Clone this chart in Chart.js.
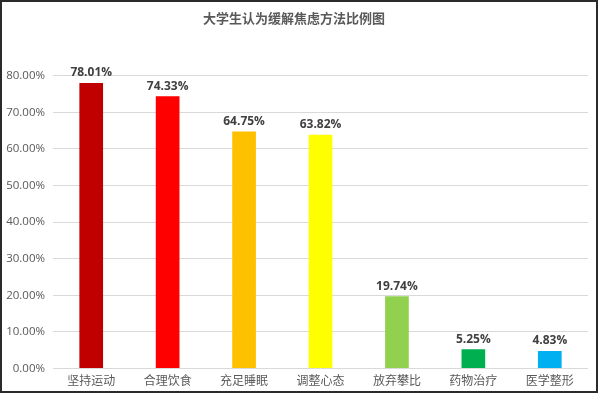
<!DOCTYPE html>
<html>
<head>
<meta charset="utf-8">
<script src="https://cdn.jsdelivr.net/npm/chart.js@4.4.0/dist/chart.umd.min.js"></script>
<style>
  html, body { margin: 0; padding: 0; background: #fff; }
  #wrap { position: relative; width: 600px; height: 395px; }
  #frame { position: absolute; left: 0; top: 0; width: 598px; height: 393px; box-sizing: border-box; border: 2px solid #2b2b2b; pointer-events: none; }
</style>
</head>
<body>
<div id="wrap">
  <canvas id="chart" width="600" height="395"></canvas>
  <div id="frame"></div>
</div>
<script>
// chart data
const categories = ["坚持运动", "合理饮食", "充足睡眠", "调整心态", "放弃攀比", "药物治疗", "医学整形"];
const percentages = [78.01, 74.33, 64.75, 63.82, 19.74, 5.25, 4.83];
const barColors = ["#C00000", "#FF0000", "#FFC000", "#FFFF00", "#92D050", "#00B050", "#00B0F0"];
const yTicks = [0, 10, 20, 30, 40, 50, 60, 70, 80];

const cjkFont = '"Noto Sans CJK SC", "Noto Sans", sans-serif';

// draw value labels above each bar
const valueLabels = {
  id: "valueLabels",
  afterDatasetsDraw(chart) {
    const ctx = chart.ctx;
    const meta = chart.getDatasetMeta(0);
    ctx.save();
    ctx.font = 'bold 12px "Open Sans", "Noto Sans", sans-serif';
    ctx.fillStyle = "#404040";
    ctx.textAlign = "center";
    ctx.textBaseline = "bottom";
    meta.data.forEach((bar, i) => {
      ctx.fillText(percentages[i].toFixed(2) + "%", bar.x, bar.y - 4);
    });
    ctx.restore();
  }
};

const ctx = document.getElementById("chart").getContext("2d");
new Chart(ctx, {
  type: "bar",
  data: {
    labels: categories,
    datasets: [{
      data: percentages,
      backgroundColor: barColors,
      borderWidth: 0,
      barPercentage: 0.31,
      categoryPercentage: 1
    }]
  },
  options: {
    responsive: false,
    animation: false,
    layout: { padding: { left: 0, right: 12, top: 0, bottom: 2 } },
    plugins: {
      legend: { display: false },
      tooltip: { enabled: false },
      title: {
        display: true,
        text: "大学生认为缓解焦虑方法比例图",
        color: "#595959",
        font: { family: cjkFont, size: 13, weight: "bold" },
        padding: { top: 10, bottom: 50 }
      }
    },
    scales: {
      x: {
        grid: { display: false, drawTicks: false },
        border: { display: false },
        ticks: {
          color: "#595959",
          font: { family: cjkFont, size: 12 },
          padding: 5
        }
      },
      y: {
        min: 0,
        max: 80,
        afterBuildTicks(scale) {
          scale.ticks = yTicks.map(v => ({ value: v }));
        },
        afterFit(scale) {
          scale.width = 53;
        },
        grid: { color: "#d9d9d9", drawTicks: false },
        border: { display: false },
        ticks: {
          color: "#595959",
          font: { family: '"Open Sans", "Noto Sans", sans-serif', size: 11.5 },
          padding: 8,
          callback: v => v.toFixed(2) + "%"
        }
      }
    }
  },
  plugins: [valueLabels]
});
</script>
</body>
</html>
